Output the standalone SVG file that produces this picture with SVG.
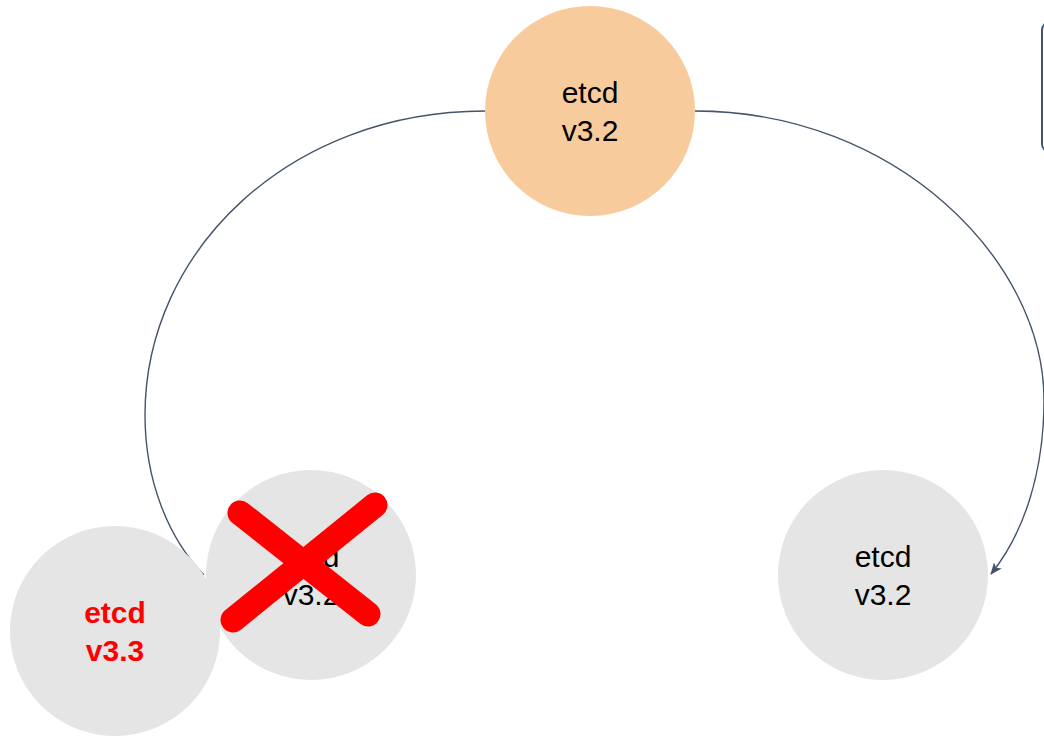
<svg xmlns="http://www.w3.org/2000/svg" width="1044" height="736" viewBox="0 0 1044 736">
  <defs>
    <style>
      .conn { fill: none; stroke: #44546a; stroke-width: 1.4; }
      .grey { fill: #e5e5e5; }
      .orange { fill: #f8cb9c; }
      .lbl { font-family: "Liberation Sans", Arial, sans-serif; font-size: 30px; fill: #000; text-anchor: middle; }
      .red { fill: #ff0000; font-weight: bold; }
      .xmark { stroke: #ff0000; stroke-width: 25; stroke-linecap: round; }
    </style>
    <marker id="arrow" viewBox="0 0 12 10" refX="11" refY="5" markerWidth="12" markerHeight="10" markerUnits="userSpaceOnUse" orient="auto">
      <path d="M0,0 L12,5 L0,10 L3,5 Z" fill="#44546a"/>
    </marker>
  </defs>

  <g id="panel-edge">
    <rect x="1042" y="22" width="40" height="130" rx="8" fill="none" stroke="#44546a" stroke-width="2"/>
  </g>

  <g id="connectors">
    <path class="conn" d="M485,111 C290,111 145,250 145,415 C145,480 168,538 204,575"/>
    <path class="conn" d="M695,111 C895,111 1044,260 1044,400 C1044,470 1025,532 991,574" marker-end="url(#arrow)"/>
  </g>

  <g id="node-top">
    <circle class="orange" cx="590" cy="111" r="105"/>
    <text class="lbl" x="590" y="103">etcd</text>
    <text class="lbl" x="590" y="141">v3.2</text>
  </g>

  <g id="node-right">
    <circle class="grey" cx="883" cy="575" r="105"/>
    <text class="lbl" x="883" y="567">etcd</text>
    <text class="lbl" x="883" y="605">v3.2</text>
  </g>

  <g id="node-middle">
    <circle class="grey" cx="311" cy="575" r="105"/>
    <text class="lbl" x="311" y="567">etcd</text>
    <text class="lbl" x="311" y="605">v3.2</text>
  </g>

  <g id="node-new">
    <circle class="grey" cx="115" cy="631" r="105"/>
    <text class="lbl red" x="115" y="623">etcd</text>
    <text class="lbl red" x="115" y="661">v3.3</text>
  </g>

  <g id="cross">
    <line class="xmark" x1="240" y1="513" x2="368" y2="614"/>
    <line class="xmark" x1="375" y1="505" x2="233" y2="620"/>
  </g>
</svg>
